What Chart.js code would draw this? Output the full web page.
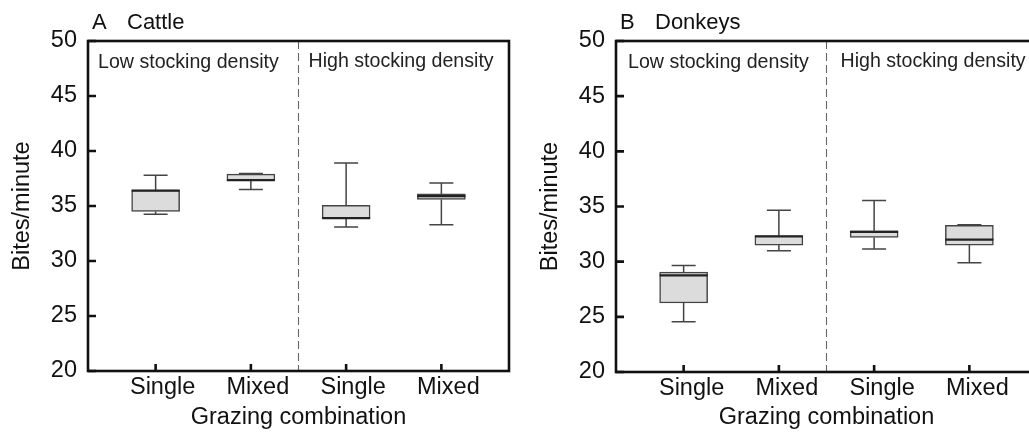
<!DOCTYPE html>
<html>
<head>
<meta charset="utf-8">
<script src="https://cdn.jsdelivr.net/npm/chart.js@4"></script>
<style>
  html, body { margin: 0; padding: 0; background: #fff; overflow: hidden; }
  #wrap { position: relative; width: 1029px; height: 432px; overflow: hidden; }
  .pane { position: absolute; top: 0; height: 432px; }
</style>
</head>
<body>
<div id="wrap">
  <div class="pane" style="left:0;width:520px"><canvas id="cattleChart"></canvas></div>
  <div class="pane" style="left:520px;width:520px"><canvas id="donkeyChart"></canvas></div>
</div>
<script>
// grazing combinations, two per stocking density
const groups = ['Single', 'Mixed', 'Single', 'Mixed'];
const densityLabels = ['Low stocking density', 'High stocking density'];
const yTicks = [20, 25, 30, 35, 40, 45, 50];

// bites per minute: whisker min, lower quartile, median, upper quartile, whisker max
const cattleMin = [34.25, 36.5, 33.1, 33.3];
const cattleQ1 = [34.5, 37.3, 33.85, 35.6];
const cattleMedian = [36.4, 37.35, 33.9, 35.9];
const cattleQ3 = [36.45, 37.9, 35.05, 36.1];
const cattleMax = [37.8, 37.95, 38.9, 37.1];

const donkeyMin = [24.55, 31.0, 31.15, 29.9];
const donkeyQ1 = [26.25, 31.5, 32.2, 31.5];
const donkeyMedian = [28.75, 32.3, 32.7, 32.0];
const donkeyQ3 = [29.05, 32.35, 32.8, 33.3];
const donkeyMax = [29.65, 34.65, 35.55, 33.35];

const ink = '#111';
const font = 'Liberation Sans, Arial, sans-serif';
const axisSize = 23.5;

const boxPlugin = {
    id: 'boxExtras',
    beforeDatasetsDraw(chart, args, opts) {
        const ctx = chart.ctx;
        const x = chart.scales.x, y = chart.scales.y;
        ctx.save();
        ctx.strokeStyle = '#444';
        ctx.lineWidth = 1.5;
        for (let i = 0; i < groups.length; i++) {
            const px = x.getPixelForValue(i + 1);
            ctx.beginPath();
            ctx.moveTo(px, y.getPixelForValue(opts.max[i]));
            ctx.lineTo(px, y.getPixelForValue(opts.q3[i]));
            ctx.moveTo(px, y.getPixelForValue(opts.q1[i]));
            ctx.lineTo(px, y.getPixelForValue(opts.min[i]));
            ctx.moveTo(px - 12, y.getPixelForValue(opts.max[i]));
            ctx.lineTo(px + 12, y.getPixelForValue(opts.max[i]));
            ctx.moveTo(px - 12, y.getPixelForValue(opts.min[i]));
            ctx.lineTo(px + 12, y.getPixelForValue(opts.min[i]));
            ctx.stroke();
        }
        ctx.restore();
    },
    afterDatasetsDraw(chart, args, opts) {
        const ctx = chart.ctx;
        const x = chart.scales.x, y = chart.scales.y;
        const a = chart.chartArea;
        ctx.save();
        // medians
        ctx.strokeStyle = '#222';
        ctx.lineWidth = 2.2;
        for (let i = 0; i < groups.length; i++) {
            const px = x.getPixelForValue(i + 1);
            const py = y.getPixelForValue(opts.median[i]);
            ctx.beginPath();
            ctx.moveTo(px - 24, py);
            ctx.lineTo(px + 24, py);
            ctx.stroke();
        }
        // dashed divider between densities
        const dx = x.getPixelForValue(2.5);
        ctx.strokeStyle = '#666';
        ctx.lineWidth = 1.1;
        ctx.setLineDash([8, 4]);
        ctx.beginPath();
        ctx.moveTo(dx, a.top);
        ctx.lineTo(dx, a.bottom);
        ctx.stroke();
        ctx.setLineDash([]);
        // frame and inward ticks
        ctx.strokeStyle = ink;
        ctx.lineWidth = 2.6;
        ctx.strokeRect(a.left, a.top, a.right - a.left, a.bottom - a.top);
        ctx.beginPath();
        yTicks.forEach(v => {
            const py = y.getPixelForValue(v);
            ctx.moveTo(a.left, py);
            ctx.lineTo(a.left + 8, py);
        });
        for (let i = 0; i < groups.length; i++) {
            const px = x.getPixelForValue(i + 1);
            ctx.moveTo(px, a.bottom);
            ctx.lineTo(px, a.bottom - 7);
        }
        ctx.stroke();
        // panel heading and density labels
        ctx.fillStyle = ink;
        ctx.textBaseline = 'middle';
        ctx.textAlign = 'left';
        ctx.font = '22px ' + font;
        ctx.fillText(opts.letter, a.left + 4, 23);
        ctx.fillText(opts.animal, a.left + 39, 23);
        ctx.font = '19.6px ' + font;
        ctx.fillStyle = '#222';
        ctx.fillText(densityLabels[0], a.left + opts.lowX, 63);
        ctx.fillText(densityLabels[1], dx + opts.highX, 62);
        ctx.restore();
    }
};

function makeChart(id, vals, extra) {
    const boxes = groups.map((g, i) => ({x: i + 1, y: [vals.q1[i], vals.q3[i]]}));
    return new Chart(document.getElementById(id).getContext('2d'), {
        type: 'bar',
        data: {
            datasets: [{
                label: 'Bites/minute',
                data: boxes,
                backgroundColor: '#dcdcdc',
                borderColor: '#444',
                borderWidth: 1.5,
                borderSkipped: false,
                barThickness: 48
            }]
        },
        options: {
            responsive: true,
            maintainAspectRatio: false,
            animation: false,
            layout: {padding: {left: 0, right: extra.padRight, top: 41, bottom: 0}},
            plugins: {
                legend: {display: false},
                tooltip: {enabled: false},
                boxExtras: Object.assign({}, vals, extra)
            },
            scales: {
                x: {
                    type: 'linear',
                    offset: false,
                    min: 0.29,
                    max: 4.71,
                    grid: {display: false, drawTicks: false, offset: false},
                    border: {display: false},
                    afterBuildTicks: s => { s.ticks = groups.map((g, i) => ({value: i + 1})); },
                    afterFit: s => { s.height = extra.xHeight; },
                    ticks: {
                        callback: v => groups[v - 1],
                        color: ink,
                        font: {family: font, size: axisSize},
                        padding: 2,
                        labelOffset: extra.labelOffset,
                        maxRotation: 0,
                        autoSkip: false
                    },
                    title: {
                        display: true,
                        text: 'Grazing combination',
                        color: ink,
                        font: {family: font, size: axisSize},
                        padding: {top: 0, bottom: 0}
                    }
                },
                y: {
                    min: 20,
                    max: 50,
                    grid: {display: false, drawTicks: false},
                    border: {display: false},
                    afterBuildTicks: s => { s.ticks = yTicks.map(v => ({value: v})); },
                    afterFit: s => { s.width = extra.yWidth; },
                    ticks: {
                        color: ink,
                        font: {family: font, size: axisSize},
                        padding: 11
                    },
                    title: {
                        display: true,
                        text: 'Bites/minute',
                        color: ink,
                        font: {family: font, size: axisSize},
                        padding: {top: extra.titlePad, bottom: 0}
                    }
                }
            }
        },
        plugins: [boxPlugin]
    });
}

makeChart('cattleChart',
    {min: cattleMin, q1: cattleQ1, median: cattleMedian, q3: cattleQ3, max: cattleMax},
    {letter: 'A', animal: 'Cattle', yWidth: 88, xHeight: 61, padRight: 11, titlePad: 8,
     labelOffset: 7, lowX: 10, highX: 10});

makeChart('donkeyChart',
    {min: donkeyMin, q1: donkeyQ1, median: donkeyMedian, q3: donkeyQ3, max: donkeyMax},
    {letter: 'B', animal: 'Donkeys', yWidth: 96, xHeight: 60, padRight: 3, titlePad: 16.5,
     labelOffset: 8, lowX: 12, highX: 14});
</script>
</body>
</html>
